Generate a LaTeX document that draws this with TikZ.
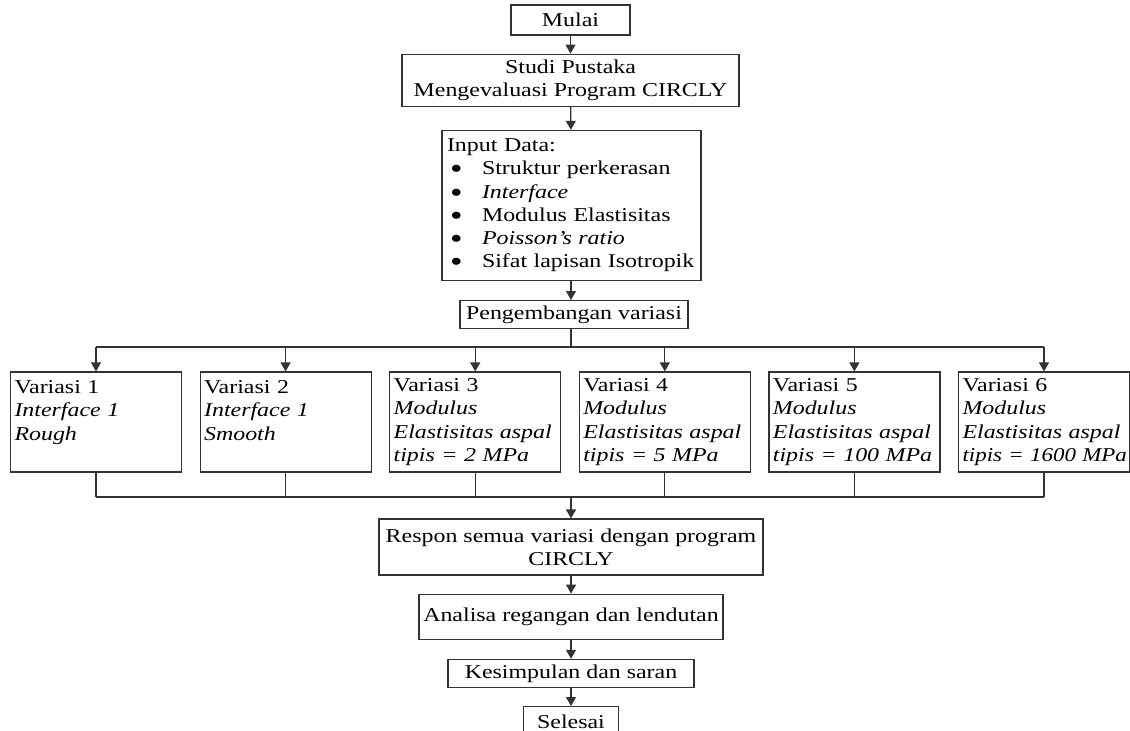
\documentclass[tikz,border=0pt]{standalone}
\usepackage{fontspec}
\setmainfont{Liberation Serif}[FakeStretch=1.22]
\usetikzlibrary{positioning,arrows.meta}
\tikzset{
 box/.style={draw=black!80, line width=0.6pt, inner sep=0pt, align=center, font=\fontsize{9.8}{11.6}\selectfont},
 vbox/.style={box, align=left, inner xsep=2pt, text width=81.5pt, minimum width=85.5pt, minimum height=50pt},
 arr/.style={-{Triangle[length=4.5pt,width=5pt]}},
}
\newcommand\itm[1]{\\\hspace*{1.5pt}\makebox[16pt][l]{\raisebox{-0.45ex}{\scalebox{1.5}{\textbullet}}}#1}
\begin{document}
\begin{tikzpicture}[x=0.5pt, y=-0.5pt, line width=0.6pt, draw=black!80]
 \useasboundingbox (0,0) rectangle (1130,730);
 \node[box, minimum width=59.5pt, minimum height=15pt] (start) at (570.5,20) {Mulai};
 \node[box, minimum width=168.5pt, minimum height=26pt, below=9pt of start] (lit) {Studi Pustaka\\Mengevaluasi Program CIRCLY};
 \node[box, align=left, inner xsep=2.5pt, text width=124.5pt, minimum height=75pt, below=11.5pt of lit, xshift=0.5pt] (input)
  {Input Data:\itm{Struktur perkerasan}\itm{\textit{Interface}}\itm{Modulus Elastisitas}\itm{\textit{Poisson’s ratio}}\itm{Sifat lapisan Isotropik}};
 \node[box, minimum width=114pt, minimum height=14pt, below=9.5pt of input, xshift=1.25pt] (dev) {Pengembangan variasi};
 \coordinate (split) at (571,347);
 \coordinate (join) at (571,497);
 \foreach \i/\txt in {1/{Variasi 1\\\textit{Interface 1}\\\textit{Rough}\\~},
  2/{Variasi 2\\\textit{Interface 1}\\\textit{Smooth}\\~},
  3/{Variasi 3\\\textit{Modulus}\\\textit{Elastisitas aspal}\\\textit{tipis = 2 MPa}},
  4/{Variasi 4\\\textit{Modulus}\\\textit{Elastisitas aspal}\\\textit{tipis = 5 MPa}},
  5/{Variasi 5\\\textit{Modulus}\\\textit{Elastisitas aspal}\\\textit{tipis = 100 MPa}},
  6/{Variasi 6\\\textit{Modulus}\\\textit{Elastisitas aspal}\\\scalebox{0.96}[1]{\textit{tipis = 1600 MPa}}}}
  \node[vbox] (v\i) at ({96+189.6*(\i-1)},422) {\txt};
 \node[box, minimum width=192pt, minimum height=28pt] (resp) at (571,547) {Respon semua variasi dengan program\\CIRCLY};
 \node[box, minimum width=152pt, minimum height=22.5pt, below=9pt of resp] (anl) {Analisa regangan dan lendutan};
 \node[box, minimum width=123pt, minimum height=14pt, below=9.5pt of anl] (concl) {Kesimpulan dan saran};
 \node[box, minimum width=47.5pt, minimum height=15pt, below=9pt of concl] (finish) {Selesai};
 \draw[arr] (start) -- (lit);
 \draw[arr] (lit) -- (input);
 \draw[arr] (input.south -| split) -- (split |- dev.north);
 \draw (dev.south -| split) -- (split);
 \draw (v1 |- split) -- (v6 |- split);
 \draw (v1 |- join) -- (v6 |- join);
 \foreach \i in {1,...,6} {
  \draw[arr] (v\i |- split) -- (v\i);
  \draw (v\i) -- (v\i |- join);
 }
 \draw[arr] (join) -- (resp);
 \draw[arr] (resp) -- (anl);
 \draw[arr] (anl) -- (concl);
 \draw[arr] (concl) -- (finish);
\end{tikzpicture}
\end{document}
